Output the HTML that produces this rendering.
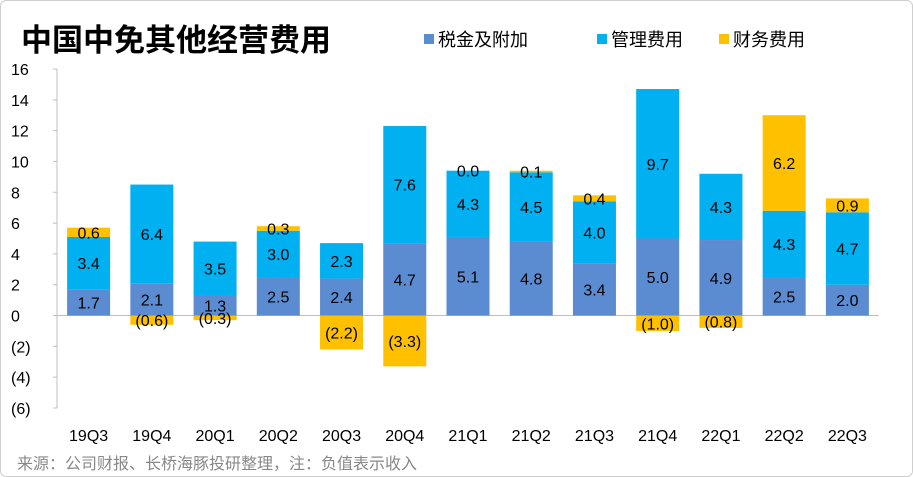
<!DOCTYPE html>
<html><head><meta charset="utf-8"><style>
body{margin:0;background:#fff;font-family:"Liberation Sans","Noto Sans CJK SC",sans-serif;}
#wrap{position:relative;width:911px;height:475px;border:1px solid #cfcfcf;border-radius:6px;overflow:hidden;}
</style></head><body>
<div id="wrap">
<svg id="chart" width="911" height="475" font-family="Liberation Sans, Noto Sans CJK SC, sans-serif">
<text x="20" y="50" font-size="31" font-weight="bold" fill="#000">中国中免其他经营费用</text>
<g>
<rect x="423" y="33" width="10" height="10" fill="#5B8BD0"/>
<text x="437" y="45" font-size="18">税金及附加</text>
<rect x="596" y="33" width="10" height="10" fill="#00B0F0"/>
<text x="610" y="45" font-size="18">管理费用</text>
<rect x="718" y="33" width="10" height="10" fill="#FFC000"/>
<text x="732" y="45" font-size="18">财务费用</text>
</g>
<g id="axes"></g><g id="bars"></g>
<text x="16" y="468" font-size="16" fill="#888">来源：公司财报、长桥海豚投研整理，注：负值表示收入</text>
</svg>
</div>
<script>
const categories=["19Q3","19Q4","20Q1","20Q2","20Q3","20Q4","21Q1","21Q2","21Q3","21Q4","22Q1","22Q2","22Q3"];
const taxValues=[1.7,2.1,1.3,2.5,2.4,4.7,5.1,4.8,3.4,5.0,4.9,2.5,2.0];
const adminValues=[3.4,6.4,3.5,3.0,2.3,7.6,4.3,4.5,4.0,9.7,4.3,4.3,4.7];
const financeValues=[0.6,-0.6,-0.3,0.3,-2.2,-3.3,0.0,0.1,0.4,-1.0,-0.8,6.2,0.9];
const yTicks=[16,14,12,10,8,6,4,2,0,-2,-4,-6];
const yTickLabels=["16","14","12","10","8","6","4","2","0","(2)","(4)","(6)"];
const NS="http://www.w3.org/2000/svg";
const yMin=-6,yMax=16,plotTop=68,plotBot=407,plotLeft=56,plotRight=878;
function y(v){return plotBot-(v-yMin)/(yMax-yMin)*(plotBot-plotTop);}
const step=(plotRight-plotLeft)/categories.length;
function xc(i){return plotLeft+step*(i+0.5);}
const bw=43;
function mk(t,a,parent){const e=document.createElementNS(NS,t);for(const k in a)e.setAttribute(k,a[k]);parent.appendChild(e);return e;}
const ax=document.getElementById('axes'),bars=document.getElementById('bars');
const yl=mk('line',{x1:plotLeft,y1:plotTop,x2:plotLeft,y2:plotBot,stroke:'#bfbfbf'},ax);


yTicks.forEach((t,i)=>{
 const tk=mk('line',{x1:plotLeft-4,y1:y(t),x2:plotLeft,y2:y(t),stroke:'#bfbfbf'},ax);
 
 
 const lb=mk('text',{x:10,y:y(t)+6,'font-size':16,fill:'#000'},ax);lb.textContent=yTickLabels[i];
 
 
});
const xl=mk('line',{x1:plotLeft,y1:y(0),x2:plotRight,y2:y(0),stroke:'#bfbfbf'},ax);


function fmt(v){return v<0?'('+Math.abs(v).toFixed(1)+')':v.toFixed(1);}
categories.forEach((c,i)=>{
 const cx=xc(i);
 const cl=mk('text',{x:cx,y:440,'font-size':16,'text-anchor':'middle'},ax);cl.textContent=c;
 
 
 let pos=0,neg=0;
 [[taxValues[i],'#5B8BD0','bar-tax'],[adminValues[i],'#00B0F0','bar-admin'],[financeValues[i],'#FFC000','bar-finance']].forEach(([v,col,nm])=>{
  let a,b;
  if(v>=0){a=pos;b=pos+v;pos=b;}else{a=neg;b=neg+v;neg=b;}
  const r=mk('rect',{x:cx-bw/2,y:Math.min(y(a),y(b)),width:bw,height:Math.abs(y(a)-y(b)),fill:col},bars);
  
  
  const t=mk('text',{x:cx,y:(y(a)+y(b))/2+6,'font-size':16,'text-anchor':'middle',fill:'#000'},bars);
  t.textContent=fmt(v);
  
  
 });
});
</script>
</body></html>
